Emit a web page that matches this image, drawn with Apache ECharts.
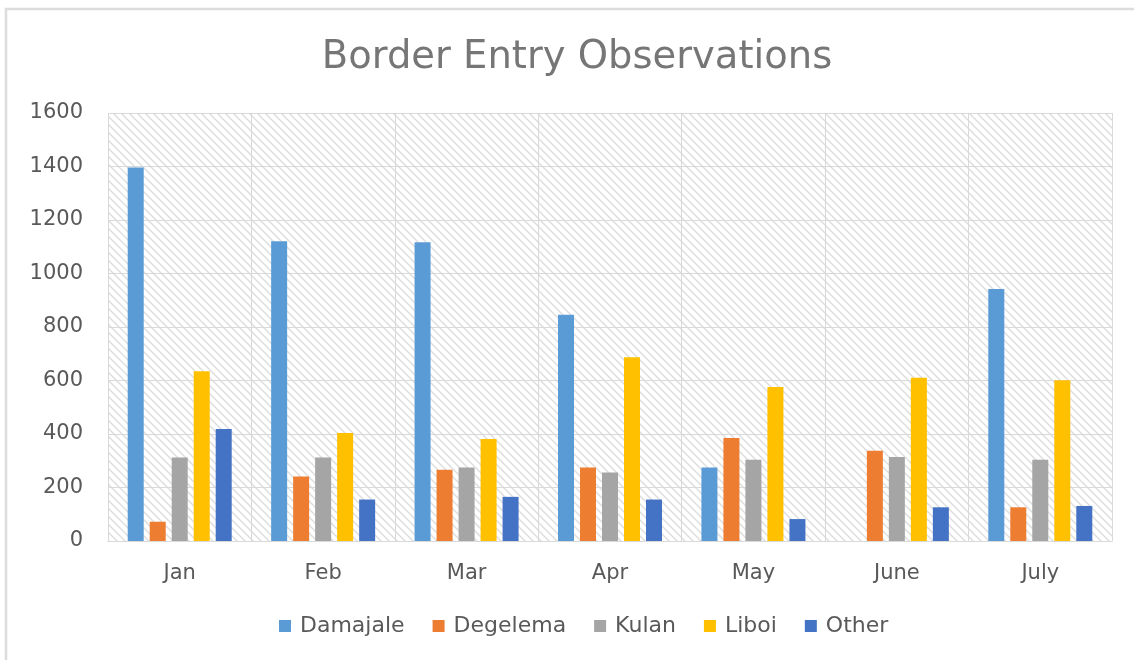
<!DOCTYPE html>
<html>
<head>
<meta charset="utf-8">
<script src="https://cdn.jsdelivr.net/npm/echarts@6/dist/echarts.min.js"></script>
<style>
  html, body { margin: 0; padding: 0; background: #ffffff; overflow: hidden; }
  #chart { width: 1134px; height: 660px; }
</style>
</head>
<body>
<div id="chart"></div>
<script>
// ---- Data ----
const categories = ['Jan', 'Feb', 'Mar', 'Apr', 'May', 'June', 'July'];
const seriesNames = ['Damajale', 'Degelema', 'Kulan', 'Liboi', 'Other'];
const damajale = [1396, 1121, 1117, 846, 275, 0, 942];
const degelema = [72, 241, 266, 275, 385, 337, 126];
const kulan = [312, 312, 275, 256, 304, 314, 304];
const liboi = [635, 404, 381, 687, 576, 610, 601];
const other = [419, 155, 165, 155, 82, 126, 131];
const yMin = 0, yMax = 1600, yStep = 200;

// ---- Styles ----
const colors = ['#5B9BD5', '#ED7D31', '#A5A5A5', '#FFC000', '#4472C4'];
const fontFamily = '"DejaVu Sans", "Open Sans", sans-serif';

// hatch pattern for plot background
const tile = document.createElement('canvas');
tile.width = 8; tile.height = 8;
const tc = tile.getContext('2d');
tc.fillStyle = '#ffffff';
tc.fillRect(0, 0, 8, 8);
tc.strokeStyle = '#dedede';
tc.lineWidth = 1.5;
tc.beginPath();
tc.moveTo(-2, -2); tc.lineTo(10, 10);
tc.moveTo(-2, 6); tc.lineTo(2, 10);
tc.moveTo(6, -2); tc.lineTo(10, 2);
tc.stroke();

const allData = [damajale, degelema, kulan, liboi, other];

const chart = echarts.init(document.getElementById('chart'), null, { renderer: 'canvas' });
chart.setOption({
  animation: false,
  backgroundColor: '#ffffff',
  title: {
    text: 'Border Entry Observations',
    left: 572,
    textAlign: 'center',
    top: 33,
    textStyle: { fontFamily: fontFamily, fontSize: 38.5, fontWeight: 'normal', color: '#767676' }
  },
  graphic: [{
    type: 'rect',
    shape: { x: 6, y: 9, width: 1300, height: 800 },
    style: { fill: 'none', stroke: '#dcdcdc', lineWidth: 2.5 },
    silent: true
  }],
  legend: {
    data: seriesNames,
    top: 610,
    left: 274,
    icon: 'rect',
    itemWidth: 12,
    itemHeight: 12,
    itemGap: 28,
    textStyle: { fontFamily: fontFamily, fontSize: 22, color: '#595959', padding: [0, 0, 0, 4] }
  },
  grid: {
    left: 108, right: 22, top: 113, bottom: 119,
    show: true,
    borderWidth: 0,
    backgroundColor: { image: tile, repeat: 'repeat' }
  },
  xAxis: {
    type: 'category',
    data: categories,
    axisLine: { show: true, lineStyle: { color: '#d9d9d9', width: 1 } },
    axisTick: { show: false },
    splitLine: { show: true, lineStyle: { color: '#d9d9d9', width: 1 } },
    axisLabel: { fontFamily: fontFamily, fontSize: 21, color: '#595959', margin: 22 }
  },
  yAxis: {
    type: 'value',
    min: yMin, max: yMax, interval: yStep,
    axisLine: { show: false },
    axisTick: { show: false },
    splitLine: { show: true, lineStyle: { color: '#d9d9d9', width: 1 } },
    axisLabel: {
      fontFamily: fontFamily, fontSize: 21, color: '#595959', margin: 25,
      formatter: (v) => String(v)
    }
  },
  series: seriesNames.map((name, i) => ({
    name: name,
    type: 'bar',
    data: allData[i],
    barWidth: 16,
    barGap: '37.5%',
    itemStyle: { color: colors[i] }
  }))
});
</script>
</body>
</html>
